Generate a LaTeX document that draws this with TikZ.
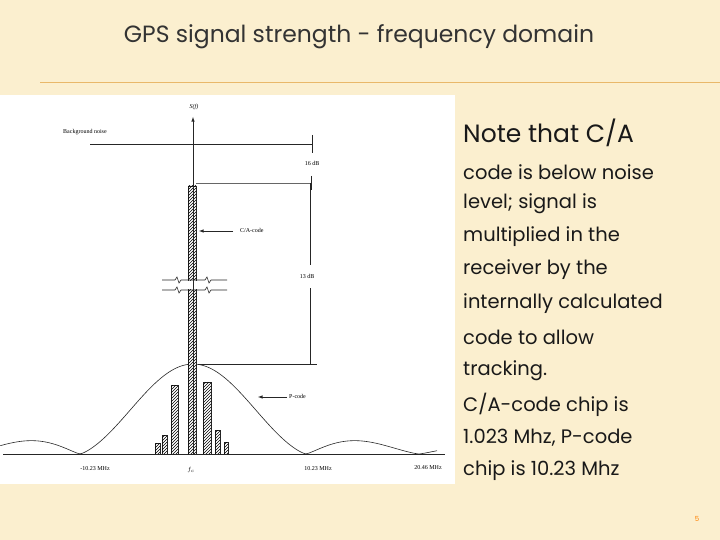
\documentclass[tikz,border=0pt]{standalone}
\usepackage{fontspec}
\setmainfont{Liberation Serif}
\newfontfamily\hand{Poppins}
\usetikzlibrary{patterns}
\definecolor{bgc}{HTML}{FBEFCF}
\definecolor{rulec}{HTML}{E9B86A}
\tikzset{
  bar/.style={draw=black!85,thick,fill=white,postaction={pattern=north east lines}},
  lab/.style={font=\fontsize{6}{7}\selectfont,inner sep=0pt},
  body/.style={font=\hand\fontsize{19.5}{22}\selectfont,anchor=west,inner sep=0pt,text=black!90},
  ln/.style={black!85,line width=0.6pt},
  declare function={sincab(\f)=abs(sin(180*\f)/(3.14159*\f));}
}
\begin{document}
\begin{tikzpicture}[x=1pt,y=-1pt]
\fill[bgc] (0,0) rectangle (720,540);
\useasboundingbox (0,0) rectangle (720,540);
\draw[rulec,line width=1pt] (40,83) -- (720,83);
\node[font=\hand\fontsize{23.5}{27}\selectfont,text=black!80] (title) at (359,37) {GPS signal strength - frequency domain};
\fill[white] (0,95) rectangle (455,484);
% P-code curve
\draw[ln] plot[domain=-1.7053:2.1617,samples=180,smooth,variable=\f] ({193+113*\f},{454-90*sincab(\f)*sqrt(sqrt(sincab(\f)))});
% bars
\draw[bar] (155,454) rectangle (160,443);
\draw[bar] (162,454) rectangle (167,435);
\draw[bar] (171,454) rectangle (178,385);
\draw[bar] (203,454) rectangle (211,382);
\draw[bar] (215,454) rectangle (220,430);
\draw[bar] (224,454) rectangle (228,442);
\draw[bar] (188,454) rectangle (196,186);
% break marks
\fill[white] (160,281) rectangle (230,289);
\draw[ln] (162,280) -- (175,280) -- (177,277) -- (179,283) -- (181,280) -- (205,280) -- (207,277) -- (209,283) -- (211,280) -- (227,280);
\draw[ln] (162,290) -- (175,290) -- (177,287) -- (179,293) -- (181,290) -- (205,290) -- (207,287) -- (209,293) -- (211,290) -- (227,290);
% axes
\coordinate (o) at (3,454);
\coordinate (e) at (445,454);
\draw[ln] (o) -- (e);
\coordinate (ab) at (193,454);
\coordinate (at) at (193,117);
\draw[ln,-latex] (ab) -- (at);
\node[lab] (sf) at (194,107) {\itshape S(f)};
% background noise
\node[lab,anchor=west] (bn) at (63,132) {Background noise};
\draw[ln] (90,144) -- (312,144);
\draw[ln] (312,135) -- (312,153);
\node[lab] (d16) at (312,163) {16 dB};
\draw[ln,black!60] (196,183) -- (312,183);
\draw[ln] (311,176) -- (311,190);
\draw[ln] (310,183) -- (310,265);
\node[lab] (d13) at (307,276) {13 dB};
\draw[ln] (310,288) -- (310,365);
\draw[ln] (198,364) -- (317,364);
% labels with arrows
\node[lab,anchor=west] (ca) at (240,230) {C/A-code};
\coordinate (cat) at (199,231);
\draw[ln,-latex] (233,231) -- (cat);
\node[lab,anchor=west] (pc) at (289,396) {P-code};
\coordinate (pct) at (258,397);
\draw[ln,-latex] (287,397) -- (pct);
% ticks
\node[lab] (t1) at (95,469) {-10.23 MHz};
\node[lab] (t2) at (191,470) {$f_c$};
\node[lab] (t3) at (318,469) {10.23 MHz};
\node[lab] (t4) at (428,468) {20.46 MHz};
% body text
\node[body,font=\hand\fontsize{25}{28}\selectfont] (l1) at (463,133) {Note that C/A};
\node[body] (l2) at (463,172) {code is below noise};
\node[body] (l3) at (463,204) {level; signal is};
\node[body] (l4) at (463,237) {multiplied in the};
\node[body] (l5) at (463,270) {receiver by the};
\node[body] (l6) at (463,304) {internally calculated};
\node[body] (l7) at (463,337) {code to allow};
\node[body] (l8) at (463,371) {tracking.};
\node[body] (l9) at (463,405) {C/A-code chip is};
\node[body] (l10) at (463,438) {1.023 Mhz, P-code};
\node[body] (l11) at (463,471) {chip is 10.23 Mhz};
\node[font=\hand\fontsize{7}{8}\selectfont,text=orange] (pg) at (697,519) {5};
\end{tikzpicture}
\end{document}
